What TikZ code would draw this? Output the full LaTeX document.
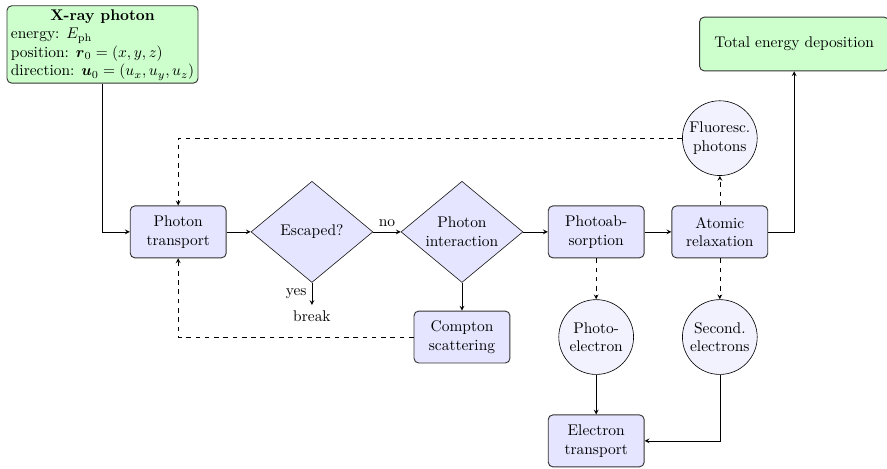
\documentclass[tikz,border=0pt]{standalone}
\usepackage{xcolor}
\usepackage{tikz}
\usepackage{amsmath}
\usepackage{amssymb}
\usetikzlibrary{shapes.geometric}

\tikzset{
  procbox/.style={draw=black!80, semithick, rounded corners=3pt, fill=blue!10, align=center, minimum width=2.18cm, minimum height=1.18cm},
  decision/.style={draw=black!90, diamond, aspect=1.2, fill=blue!10, align=center, inner sep=0pt, minimum width=2.77cm, minimum height=2.3cm},
  particle/.style={draw, circle, fill=blue!5, align=center, inner sep=1pt, minimum size=1.7cm},
  greenbox/.style={draw=black!80, semithick, rounded corners=3pt, fill=green!20},
  flow/.style={->, >=stealth},
  side/.style={->, >=stealth, dashed}
}

\begin{document}
\begin{tikzpicture}
\useasboundingbox (0,0) rectangle (20.16,-10.64);

\node[greenbox, inner xsep=2.5pt, inner ysep=1pt] (photon) at (2.33,-1.01) {\begin{tabular}{@{}l@{}}\multicolumn{1}{@{}c@{}}{\textbf{X-ray photon}}\\ energy: $E_{\mathrm{ph}}$\\ position: $\boldsymbol{r}_0=(x,y,z)$\\ direction: $\boldsymbol{u}_0=(u_x,u_y,u_z)$\end{tabular}};
\node[greenbox, minimum width=4.3cm, minimum height=1.22cm] (total) at (18.05,-1.0) {Total energy deposition};

\node[procbox] (transport) at (4.05,-5.27) {Photon\\transport};
\node[decision] (escaped) at (7.09,-5.27) {Escaped?};
\node[decision] (interaction) at (10.5,-5.27) {Photon\\interaction};
\node[procbox] (absorption) at (13.55,-5.27) {Photoab-\\sorption};
\node[procbox] (relaxation) at (16.36,-5.27) {Atomic\\relaxation};
\node[particle] (fluor) at (16.36,-3.14) {Fluoresc.\\photons};
\node[procbox] (compton) at (10.5,-7.66) {Compton\\scattering};
\node[particle] (photoel) at (13.55,-7.66) {Photo-\\electron};
\node[particle] (second) at (16.36,-7.66) {Second.\\electrons};
\node[procbox] (eltransport) at (13.55,-10.02) {Electron\\transport};
\node (brk) at (7.09,-7.18) {break};

% main path
\draw[flow] (photon.south) |- (transport.west);
\draw[flow] (transport) -- (escaped);
\draw[flow] (escaped.east) -- node[above] {no} (interaction.west);
\draw[flow] (escaped.south) -- node[left] {yes} (brk.north);
\draw[flow] (interaction) -- (absorption);
\draw[flow] (absorption) -- (relaxation);
\draw[flow] (relaxation.east) -| (total.south);
\draw[flow] (interaction) -- (compton);

% secondary particles
\draw[side] (relaxation) -- (fluor);
\draw[side] (relaxation) -- (second);
\draw[side] (absorption) -- (photoel);
\draw[side] (fluor.west) -| (transport.north);
\draw[side] (compton.west) -| (transport.south);
\draw[flow] (photoel) -- (eltransport);
\draw[flow] (second.south) |- (eltransport.east);
\end{tikzpicture}
\end{document}
